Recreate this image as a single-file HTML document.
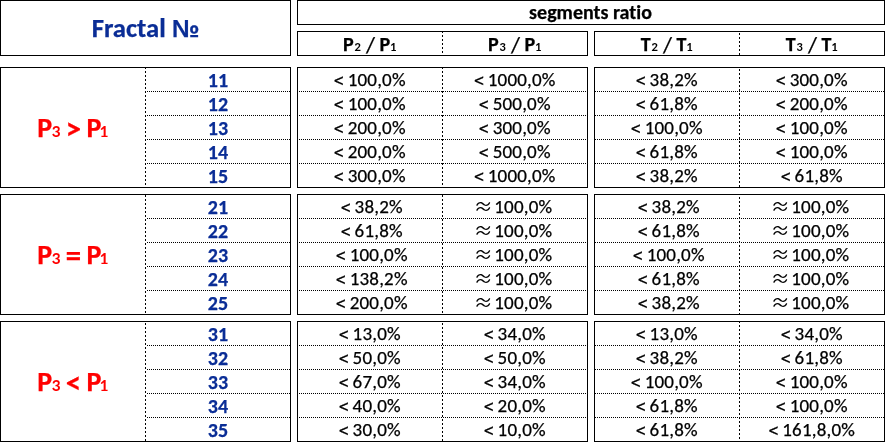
<!DOCTYPE html>
<html><head><meta charset="utf-8"><style>
html,body{margin:0;padding:0;background:#fff;}
body{width:885px;height:442px;position:relative;overflow:hidden;font-variant-ligatures:none;font-feature-settings:"liga" 0,"clig" 0,"dlig" 0;font-family:"Carlito","Calibri","Liberation Sans",sans-serif;}
.hs{position:absolute;height:1px;background:#000;}
.vs{position:absolute;width:1px;background:#000;}
.hd{position:absolute;height:1px;background:linear-gradient(to right,transparent 0,transparent 1px,#000 1px,#000 2px);background-size:2px 1px;}
.vd{position:absolute;width:1px;background:linear-gradient(to bottom,#000 0,#000 2px,transparent 2px,transparent 4px);background-size:1px 4px;}
.t{position:absolute;white-space:nowrap;line-height:1;transform:translateX(-50%);color:#000;-webkit-text-stroke:0.25px currentColor;}
.fr{font-size:26.67px;font-weight:bold;color:#0a2d96;}
.seg{font-size:20px;font-weight:bold;}

.ch{font-size:20px;font-weight:bold;}
.num{font-size:20px;font-weight:bold;color:#0a2d96;}
.lbl{font-size:28px;font-weight:bold;color:#f00;}
.dt{font-size:19px;letter-spacing:0.2px;}
.sb{font-size:1.14em;font-weight:normal;line-height:0;position:relative;top:-0.105em;-webkit-text-stroke:0;}
.lt{font-family:"Noto Sans CJK JP","Carlito",sans-serif;font-size:1em;line-height:0;position:relative;top:1.5px;margin-right:-1.5px;display:inline-block;transform:scaleX(0.9);transform-origin:0 0;}
.ch .sb{font-size:1.16em;top:-2.6px;}
.sl{font-size:1.16em;font-weight:normal;line-height:0;position:relative;top:1.4px;}
.lbl .sb{margin-left:-1.5px;}
.op{font-size:1.1em;line-height:0;position:relative;top:2px;margin:0 -1px 0 -2px;}
.no{font-family:"Liberation Sans",sans-serif;font-size:0.926em;line-height:0;}
.ap{font-family:"Noto Sans CJK JP","DejaVu Sans",sans-serif;font-size:1em;line-height:0;letter-spacing:0;margin-right:-3px;position:relative;top:1px;-webkit-text-stroke:0;}
</style></head><body>
<div class="hs" style="left:0px;top:0px;width:291px"></div>
<div class="hs" style="left:0px;top:55px;width:291px"></div>
<div class="vs" style="left:0px;top:0px;height:56px"></div>
<div class="vs" style="left:290px;top:0px;height:56px"></div>
<div class="hs" style="left:297px;top:0px;width:588px"></div>
<div class="hs" style="left:297px;top:24px;width:588px"></div>
<div class="vs" style="left:297px;top:0px;height:25px"></div>
<div class="vs" style="left:884px;top:0px;height:25px"></div>
<div class="hs" style="left:297px;top:31px;width:291px"></div>
<div class="hs" style="left:297px;top:55px;width:291px"></div>
<div class="vs" style="left:297px;top:31px;height:25px"></div>
<div class="vs" style="left:587px;top:31px;height:25px"></div>
<div class="vd" style="left:442px;top:31px;height:25px"></div>
<div class="hs" style="left:594px;top:31px;width:291px"></div>
<div class="hs" style="left:594px;top:55px;width:291px"></div>
<div class="vs" style="left:594px;top:31px;height:25px"></div>
<div class="vs" style="left:884px;top:31px;height:25px"></div>
<div class="vd" style="left:739px;top:31px;height:25px;background-position:0 2px"></div>
<div class="t fr" style="left:145.5px;top:14.55px">Fractal <span class="no">№</span></div>
<div class="t seg" style="left:590.5px;top:2.17px">segments ratio</div>
<div class="t ch" style="left:369.5px;top:34.17px">P<span class="sb">₂</span> <span class="sl">/</span> P<span class="sb">₁</span></div>
<div class="t ch" style="left:514.5px;top:34.17px">P<span class="sb">₃</span> <span class="sl">/</span> P<span class="sb">₁</span></div>
<div class="t ch" style="left:666.5px;top:34.17px">T<span class="sb">₂</span> <span class="sl">/</span> T<span class="sb">₁</span></div>
<div class="t ch" style="left:811.5px;top:34.17px">T<span class="sb">₃</span> <span class="sl">/</span> T<span class="sb">₁</span></div>
<div class="hs" style="left:0px;top:67px;width:291px"></div>
<div class="hs" style="left:0px;top:187px;width:291px"></div>
<div class="vs" style="left:0px;top:67px;height:121px"></div>
<div class="vs" style="left:290px;top:67px;height:121px"></div>
<div class="vd" style="left:145px;top:67px;height:121px"></div>
<div class="hs" style="left:297px;top:67px;width:291px"></div>
<div class="hs" style="left:297px;top:187px;width:291px"></div>
<div class="vs" style="left:297px;top:67px;height:121px"></div>
<div class="vs" style="left:587px;top:67px;height:121px"></div>
<div class="vd" style="left:442px;top:67px;height:121px"></div>
<div class="hs" style="left:594px;top:67px;width:291px"></div>
<div class="hs" style="left:594px;top:187px;width:291px"></div>
<div class="vs" style="left:594px;top:67px;height:121px"></div>
<div class="vs" style="left:884px;top:67px;height:121px"></div>
<div class="vd" style="left:739px;top:67px;height:121px;background-position:0 2px"></div>
<div class="hd" style="left:146px;top:91px;width:144px"></div>
<div class="hd" style="left:298px;top:91px;width:289px"></div>
<div class="hd" style="left:595px;top:91px;width:289px;background-position:1px 0"></div>
<div class="hd" style="left:146px;top:115px;width:144px"></div>
<div class="hd" style="left:298px;top:115px;width:289px"></div>
<div class="hd" style="left:595px;top:115px;width:289px;background-position:1px 0"></div>
<div class="hd" style="left:146px;top:139px;width:144px"></div>
<div class="hd" style="left:298px;top:139px;width:289px"></div>
<div class="hd" style="left:595px;top:139px;width:289px;background-position:1px 0"></div>
<div class="hd" style="left:146px;top:163px;width:144px"></div>
<div class="hd" style="left:298px;top:163px;width:289px"></div>
<div class="hd" style="left:595px;top:163px;width:289px;background-position:1px 0"></div>
<div class="t lbl" style="left:72.5px;top:114.43px">P<span class="sb">₃</span> <span class="op">&gt;</span> P<span class="sb">₁</span></div>
<div class="t num" style="left:218px;top:70.17px">11</div>
<div class="t dt" style="left:369.8px;top:70.01px"><span class="lt">&lt;</span> 100,0%</div>
<div class="t dt" style="left:514.8px;top:70.01px"><span class="lt">&lt;</span> 1000,0%</div>
<div class="t dt" style="left:666.8px;top:70.01px"><span class="lt">&lt;</span> 38,2%</div>
<div class="t dt" style="left:811.8px;top:70.01px"><span class="lt">&lt;</span> 300,0%</div>
<div class="t num" style="left:218px;top:94.17px">12</div>
<div class="t dt" style="left:369.8px;top:94.01px"><span class="lt">&lt;</span> 100,0%</div>
<div class="t dt" style="left:514.8px;top:94.01px"><span class="lt">&lt;</span> 500,0%</div>
<div class="t dt" style="left:666.8px;top:94.01px"><span class="lt">&lt;</span> 61,8%</div>
<div class="t dt" style="left:811.8px;top:94.01px"><span class="lt">&lt;</span> 200,0%</div>
<div class="t num" style="left:218px;top:118.17px">13</div>
<div class="t dt" style="left:369.8px;top:118.01px"><span class="lt">&lt;</span> 200,0%</div>
<div class="t dt" style="left:514.8px;top:118.01px"><span class="lt">&lt;</span> 300,0%</div>
<div class="t dt" style="left:666.8px;top:118.01px"><span class="lt">&lt;</span> 100,0%</div>
<div class="t dt" style="left:811.8px;top:118.01px"><span class="lt">&lt;</span> 100,0%</div>
<div class="t num" style="left:218px;top:142.17px">14</div>
<div class="t dt" style="left:369.8px;top:142.01px"><span class="lt">&lt;</span> 200,0%</div>
<div class="t dt" style="left:514.8px;top:142.01px"><span class="lt">&lt;</span> 500,0%</div>
<div class="t dt" style="left:666.8px;top:142.01px"><span class="lt">&lt;</span> 61,8%</div>
<div class="t dt" style="left:811.8px;top:142.01px"><span class="lt">&lt;</span> 100,0%</div>
<div class="t num" style="left:218px;top:166.17px">15</div>
<div class="t dt" style="left:369.8px;top:166.01px"><span class="lt">&lt;</span> 300,0%</div>
<div class="t dt" style="left:514.8px;top:166.01px"><span class="lt">&lt;</span> 1000,0%</div>
<div class="t dt" style="left:666.8px;top:166.01px"><span class="lt">&lt;</span> 38,2%</div>
<div class="t dt" style="left:811.8px;top:166.01px"><span class="lt">&lt;</span> 61,8%</div>
<div class="hs" style="left:0px;top:194px;width:291px"></div>
<div class="hs" style="left:0px;top:314px;width:291px"></div>
<div class="vs" style="left:0px;top:194px;height:121px"></div>
<div class="vs" style="left:290px;top:194px;height:121px"></div>
<div class="vd" style="left:145px;top:194px;height:121px;background-position:0 1px"></div>
<div class="hs" style="left:297px;top:194px;width:291px"></div>
<div class="hs" style="left:297px;top:314px;width:291px"></div>
<div class="vs" style="left:297px;top:194px;height:121px"></div>
<div class="vs" style="left:587px;top:194px;height:121px"></div>
<div class="vd" style="left:442px;top:194px;height:121px;background-position:0 1px"></div>
<div class="hs" style="left:594px;top:194px;width:291px"></div>
<div class="hs" style="left:594px;top:314px;width:291px"></div>
<div class="vs" style="left:594px;top:194px;height:121px"></div>
<div class="vs" style="left:884px;top:194px;height:121px"></div>
<div class="vd" style="left:739px;top:194px;height:121px;background-position:0 3px"></div>
<div class="hd" style="left:146px;top:218px;width:144px"></div>
<div class="hd" style="left:298px;top:218px;width:289px"></div>
<div class="hd" style="left:595px;top:218px;width:289px;background-position:1px 0"></div>
<div class="hd" style="left:146px;top:242px;width:144px"></div>
<div class="hd" style="left:298px;top:242px;width:289px"></div>
<div class="hd" style="left:595px;top:242px;width:289px;background-position:1px 0"></div>
<div class="hd" style="left:146px;top:266px;width:144px"></div>
<div class="hd" style="left:298px;top:266px;width:289px"></div>
<div class="hd" style="left:595px;top:266px;width:289px;background-position:1px 0"></div>
<div class="hd" style="left:146px;top:290px;width:144px"></div>
<div class="hd" style="left:298px;top:290px;width:289px"></div>
<div class="hd" style="left:595px;top:290px;width:289px;background-position:1px 0"></div>
<div class="t lbl" style="left:72.5px;top:241.43px">P<span class="sb">₃</span> <span class="op">=</span> P<span class="sb">₁</span></div>
<div class="t num" style="left:218px;top:197.17px">21</div>
<div class="t dt" style="left:371.8px;top:197.01px"><span class="lt">&lt;</span> 38,2%</div>
<div class="t dt" style="left:513.0px;top:197.01px"><span class="ap">≈</span> 100,0%</div>
<div class="t dt" style="left:668.8px;top:197.01px"><span class="lt">&lt;</span> 38,2%</div>
<div class="t dt" style="left:810.0px;top:197.01px"><span class="ap">≈</span> 100,0%</div>
<div class="t num" style="left:218px;top:221.17px">22</div>
<div class="t dt" style="left:371.8px;top:221.01px"><span class="lt">&lt;</span> 61,8%</div>
<div class="t dt" style="left:513.0px;top:221.01px"><span class="ap">≈</span> 100,0%</div>
<div class="t dt" style="left:668.8px;top:221.01px"><span class="lt">&lt;</span> 61,8%</div>
<div class="t dt" style="left:810.0px;top:221.01px"><span class="ap">≈</span> 100,0%</div>
<div class="t num" style="left:218px;top:245.17px">23</div>
<div class="t dt" style="left:371.8px;top:245.01px"><span class="lt">&lt;</span> 100,0%</div>
<div class="t dt" style="left:513.0px;top:245.01px"><span class="ap">≈</span> 100,0%</div>
<div class="t dt" style="left:668.8px;top:245.01px"><span class="lt">&lt;</span> 100,0%</div>
<div class="t dt" style="left:810.0px;top:245.01px"><span class="ap">≈</span> 100,0%</div>
<div class="t num" style="left:218px;top:269.17px">24</div>
<div class="t dt" style="left:371.8px;top:269.01px"><span class="lt">&lt;</span> 138,2%</div>
<div class="t dt" style="left:513.0px;top:269.01px"><span class="ap">≈</span> 100,0%</div>
<div class="t dt" style="left:668.8px;top:269.01px"><span class="lt">&lt;</span> 61,8%</div>
<div class="t dt" style="left:810.0px;top:269.01px"><span class="ap">≈</span> 100,0%</div>
<div class="t num" style="left:218px;top:293.17px">25</div>
<div class="t dt" style="left:371.8px;top:293.01px"><span class="lt">&lt;</span> 200,0%</div>
<div class="t dt" style="left:513.0px;top:293.01px"><span class="ap">≈</span> 100,0%</div>
<div class="t dt" style="left:668.8px;top:293.01px"><span class="lt">&lt;</span> 38,2%</div>
<div class="t dt" style="left:810.0px;top:293.01px"><span class="ap">≈</span> 100,0%</div>
<div class="hs" style="left:0px;top:321px;width:291px"></div>
<div class="hs" style="left:0px;top:441px;width:291px"></div>
<div class="vs" style="left:0px;top:321px;height:121px"></div>
<div class="vs" style="left:290px;top:321px;height:121px"></div>
<div class="vd" style="left:145px;top:321px;height:121px;background-position:0 2px"></div>
<div class="hs" style="left:297px;top:321px;width:291px"></div>
<div class="hs" style="left:297px;top:441px;width:291px"></div>
<div class="vs" style="left:297px;top:321px;height:121px"></div>
<div class="vs" style="left:587px;top:321px;height:121px"></div>
<div class="vd" style="left:442px;top:321px;height:121px;background-position:0 2px"></div>
<div class="hs" style="left:594px;top:321px;width:291px"></div>
<div class="hs" style="left:594px;top:441px;width:291px"></div>
<div class="vs" style="left:594px;top:321px;height:121px"></div>
<div class="vs" style="left:884px;top:321px;height:121px"></div>
<div class="vd" style="left:739px;top:321px;height:121px"></div>
<div class="hd" style="left:146px;top:345px;width:144px"></div>
<div class="hd" style="left:298px;top:345px;width:289px"></div>
<div class="hd" style="left:595px;top:345px;width:289px;background-position:1px 0"></div>
<div class="hd" style="left:146px;top:369px;width:144px"></div>
<div class="hd" style="left:298px;top:369px;width:289px"></div>
<div class="hd" style="left:595px;top:369px;width:289px;background-position:1px 0"></div>
<div class="hd" style="left:146px;top:393px;width:144px"></div>
<div class="hd" style="left:298px;top:393px;width:289px"></div>
<div class="hd" style="left:595px;top:393px;width:289px;background-position:1px 0"></div>
<div class="hd" style="left:146px;top:417px;width:144px"></div>
<div class="hd" style="left:298px;top:417px;width:289px"></div>
<div class="hd" style="left:595px;top:417px;width:289px;background-position:1px 0"></div>
<div class="t lbl" style="left:72.5px;top:368.43px">P<span class="sb">₃</span> <span class="op">&lt;</span> P<span class="sb">₁</span></div>
<div class="t num" style="left:218px;top:324.17px">31</div>
<div class="t dt" style="left:369.8px;top:324.01px"><span class="lt">&lt;</span> 13,0%</div>
<div class="t dt" style="left:514.8px;top:324.01px"><span class="lt">&lt;</span> 34,0%</div>
<div class="t dt" style="left:666.8px;top:324.01px"><span class="lt">&lt;</span> 13,0%</div>
<div class="t dt" style="left:811.8px;top:324.01px"><span class="lt">&lt;</span> 34,0%</div>
<div class="t num" style="left:218px;top:348.17px">32</div>
<div class="t dt" style="left:369.8px;top:348.01px"><span class="lt">&lt;</span> 50,0%</div>
<div class="t dt" style="left:514.8px;top:348.01px"><span class="lt">&lt;</span> 50,0%</div>
<div class="t dt" style="left:666.8px;top:348.01px"><span class="lt">&lt;</span> 38,2%</div>
<div class="t dt" style="left:811.8px;top:348.01px"><span class="lt">&lt;</span> 61,8%</div>
<div class="t num" style="left:218px;top:372.17px">33</div>
<div class="t dt" style="left:369.8px;top:372.01px"><span class="lt">&lt;</span> 67,0%</div>
<div class="t dt" style="left:514.8px;top:372.01px"><span class="lt">&lt;</span> 34,0%</div>
<div class="t dt" style="left:666.8px;top:372.01px"><span class="lt">&lt;</span> 100,0%</div>
<div class="t dt" style="left:811.8px;top:372.01px"><span class="lt">&lt;</span> 100,0%</div>
<div class="t num" style="left:218px;top:396.17px">34</div>
<div class="t dt" style="left:369.8px;top:396.01px"><span class="lt">&lt;</span> 40,0%</div>
<div class="t dt" style="left:514.8px;top:396.01px"><span class="lt">&lt;</span> 20,0%</div>
<div class="t dt" style="left:666.8px;top:396.01px"><span class="lt">&lt;</span> 61,8%</div>
<div class="t dt" style="left:811.8px;top:396.01px"><span class="lt">&lt;</span> 100,0%</div>
<div class="t num" style="left:218px;top:420.17px">35</div>
<div class="t dt" style="left:369.8px;top:420.01px"><span class="lt">&lt;</span> 30,0%</div>
<div class="t dt" style="left:514.8px;top:420.01px"><span class="lt">&lt;</span> 10,0%</div>
<div class="t dt" style="left:666.8px;top:420.01px"><span class="lt">&lt;</span> 61,8%</div>
<div class="t dt" style="left:811.8px;top:420.01px"><span class="lt">&lt;</span> 161,8,0%</div>
</body></html>
